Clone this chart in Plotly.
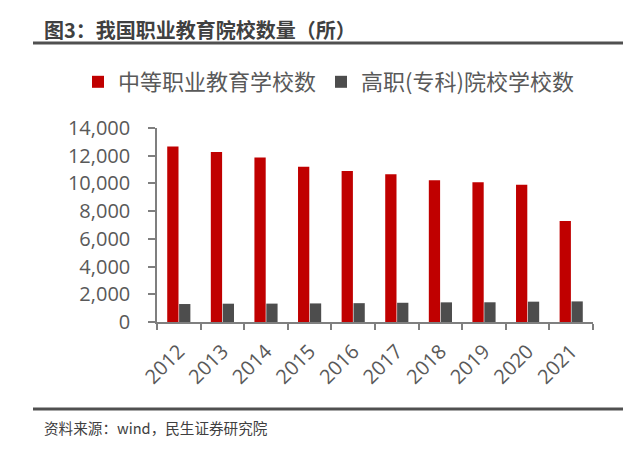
import plotly.graph_objects as go

years = ["2012", "2013", "2014", "2015", "2016", "2017", "2018", "2019", "2020", "2021"]
secondary = [12663, 12262, 11878, 11202, 10893, 10671, 10229, 10078, 9896, 7294]
higher = [1297, 1321, 1327, 1341, 1359, 1388, 1418, 1423, 1468, 1486]
name_secondary = "中等职业教育学校数"
name_higher = "高职(专科)院校学校数"
title_text = "图3：我国职业教育院校数量（所）"
source_text = "资料来源：wind，民生证券研究院"

W, H = 623, 468
L, R, T, B = 157, 30, 128, 146
pw, ph = W - L - R, H - T - B

def px(x):
    return (x - L) / pw

def py(y):
    return (H - B - y) / ph

FONT = "Open Sans, Noto Sans CJK SC, sans-serif"
CJK = "Noto Sans CJK SC, sans-serif"
TXT = "#595959"

fig = go.Figure()
fig.add_trace(go.Bar(x=years, y=secondary, name=name_secondary, marker_color="#C00000",
                     marker_line_width=0))
fig.add_trace(go.Bar(x=years, y=higher, name=name_higher, marker_color="#4D4D4D",
                     marker_line_width=0))

fig.update_layout(
    width=W, height=H,
    margin=dict(l=L, r=R, t=T, b=B, autoexpand=False),
    paper_bgcolor="white", plot_bgcolor="white",
    barmode="group", bargap=0.455, bargroupgap=0.05,
    font=dict(family=FONT, color=TXT),
    showlegend=True,
    legend=dict(orientation="h", x=px(78), xanchor="left", y=py(82), yanchor="middle",
                font=dict(family=CJK, size=22, color=TXT), bgcolor="rgba(0,0,0,0)",
                traceorder="normal"),
    xaxis=dict(type="category", showline=True, linecolor="#7F7F7F", linewidth=1.5,
               ticks="outside", tickson="boundaries", ticklen=6, tickcolor="#7F7F7F",
               tickwidth=1.5, tickangle=-45, ticklabelstandoff=8,
               tickfont=dict(family=FONT, size=20, color=TXT),
               showgrid=False, automargin=False),
    yaxis=dict(range=[0, 14000], dtick=2000, tickformat=",d", showline=True,
               linecolor="#7F7F7F", linewidth=1.5, ticks="outside", ticklen=7,
               tickcolor="#7F7F7F", tickwidth=1.5, showgrid=False, zeroline=False,
               automargin=False, ticklabelstandoff=14,
               tickfont=dict(family=FONT, size=20, color=TXT)),
)

fig.add_shape(type="line", xref="paper", yref="paper", x0=px(33), x1=px(623),
              y0=py(43), y1=py(43), line=dict(color="#505050", width=3))
fig.add_shape(type="line", xref="paper", yref="paper", x0=px(33), x1=px(623),
              y0=py(409), y1=py(409), line=dict(color="#505050", width=3))

fig.add_annotation(text="<b>" + title_text + "</b>", xref="paper", yref="paper",
                   x=px(42), y=py(29), xanchor="left", yanchor="middle", showarrow=False,
                   font=dict(family=CJK, size=20, color="#404040"))
fig.add_annotation(text=source_text, xref="paper", yref="paper",
                   x=px(42), y=py(427), xanchor="left", yanchor="middle", showarrow=False,
                   font=dict(family=CJK, size=14.6, color="#404040"))

fig.write_html("out.html", config={"displayModeBar": False},
               post_script="document.body.style.margin='0';document.body.style.overflow='hidden';")
